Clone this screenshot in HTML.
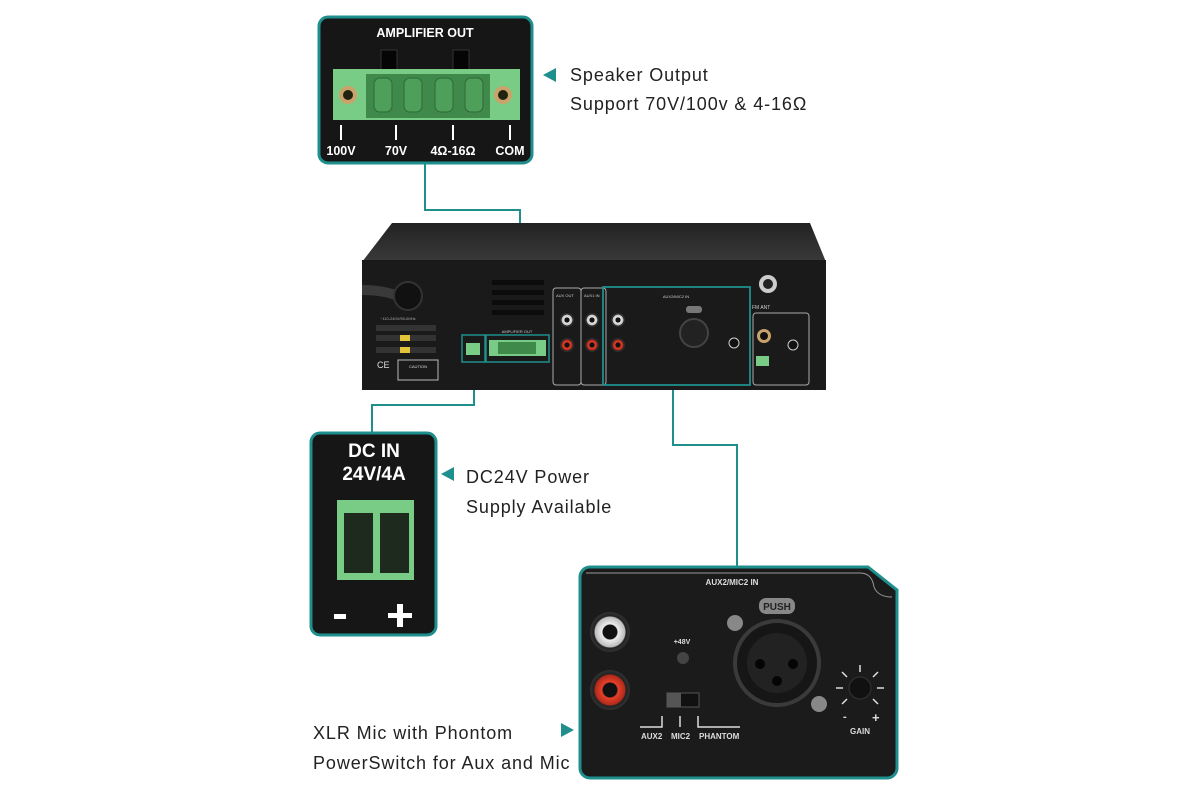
<!DOCTYPE html>
<html><head><meta charset="utf-8"><style>
html,body{margin:0;padding:0;background:#fff;}
svg{display:block;}
text{font-family:"Liberation Sans",sans-serif;}
.lbl{font-size:18px;letter-spacing:0.9px;fill:#222;}
</style></head><body>
<svg width="1200" height="800" viewBox="0 0 1200 800" xmlns="http://www.w3.org/2000/svg">
<rect width="1200" height="800" fill="#fff"/>
<defs>
<radialGradient id="rcaW"><stop offset="0.35" stop-color="#111"/><stop offset="0.4" stop-color="#eee"/><stop offset="0.75" stop-color="#bbb"/><stop offset="0.8" stop-color="#222"/><stop offset="1" stop-color="#333"/></radialGradient>
<radialGradient id="rcaR"><stop offset="0.35" stop-color="#111"/><stop offset="0.4" stop-color="#e8402a"/><stop offset="0.75" stop-color="#b02a1a"/><stop offset="0.8" stop-color="#222"/><stop offset="1" stop-color="#333"/></radialGradient>
<linearGradient id="topg" x1="0" y1="0" x2="0" y2="1"><stop offset="0" stop-color="#222"/><stop offset="1" stop-color="#3a3a3a"/></linearGradient>
</defs>

<g stroke="#1e8f8c" stroke-width="2" fill="none">
<polyline points="425,163 425,210 520,210 520,336"/>
<polyline points="474,362 474,405 372,405 372,433"/>
<polyline points="673,385 673,445 737,445 737,568"/>
</g>

<rect x="319" y="17" width="213" height="146" rx="9" fill="#161616" stroke="#1e8f8c" stroke-width="3"/>
<text x="425" y="37" fill="#fff" font-size="12.5" font-weight="bold" text-anchor="middle">AMPLIFIER  OUT</text>
<rect x="381" y="50" width="16" height="20" fill="#050505" stroke="#333"/>
<rect x="453" y="50" width="16" height="20" fill="#050505" stroke="#333"/>
<rect x="333" y="69" width="187" height="51" fill="#78cc86"/>
<rect x="366" y="74" width="124" height="44" fill="#3f8a4b"/>
<g fill="#4d9f59" stroke="#2f6a38">
<rect x="374" y="78" width="18" height="34" rx="6"/><rect x="404" y="78" width="18" height="34" rx="6"/><rect x="435" y="78" width="18" height="34" rx="6"/><rect x="465" y="78" width="18" height="34" rx="6"/>
</g>
<circle cx="348" cy="95" r="9" fill="#c9a36a"/><circle cx="348" cy="95" r="5" fill="#221"/>
<circle cx="503" cy="95" r="9" fill="#c9a36a"/><circle cx="503" cy="95" r="5" fill="#221"/>
<g stroke="#fff" stroke-width="2"><line x1="341" y1="125" x2="341" y2="140"/><line x1="396" y1="125" x2="396" y2="140"/><line x1="453" y1="125" x2="453" y2="140"/><line x1="510" y1="125" x2="510" y2="140"/></g>
<g fill="#fff" font-size="12.5" font-weight="bold" text-anchor="middle">
<text x="341" y="155">100V</text><text x="396" y="155">70V</text><text x="453" y="155">4Ω-16Ω</text><text x="510" y="155">COM</text></g>
<polygon points="543,75 556,68 556,82" fill="#1e8f8c"/>
<text x="570" y="81" class="lbl">Speaker Output</text>
<text x="570" y="110" class="lbl">Support 70V/100v &amp; 4-16Ω</text>

<polygon points="392,223 810,223 826,262 362,262" fill="url(#topg)"/>
<rect x="362" y="260" width="464" height="130" fill="#1a1a1a"/>
<path d="M362,290 q25,0 40,8" stroke="#3a3a3a" stroke-width="10" fill="none"/>
<circle cx="408" cy="296" r="14" fill="#111" stroke="#333" stroke-width="2"/>
<g fill="#0c0c0c"><rect x="492" y="280" width="52" height="5"/><rect x="492" y="290" width="52" height="5"/><rect x="492" y="300" width="52" height="5"/><rect x="492" y="310" width="52" height="5"/></g>
<text x="380" y="320" font-size="4" fill="#aaa">~110-240V/50-60Hz</text>
<g><rect x="376" y="325" width="60" height="6" fill="#333"/><rect x="376" y="335" width="60" height="6" fill="#333"/><rect x="400" y="335" width="10" height="6" fill="#e2c33a"/><rect x="376" y="347" width="60" height="6" fill="#333"/><rect x="400" y="347" width="10" height="6" fill="#e2c33a"/></g>
<text x="377" y="368" font-size="9" fill="#ddd">CE</text>
<rect x="398" y="360" width="40" height="20" fill="none" stroke="#bbb"/>
<text x="418" y="368" font-size="4" fill="#ddd" text-anchor="middle">CAUTION</text>
<rect x="462" y="335" width="23" height="27" fill="none" stroke="#1e8f8c" stroke-width="1.5"/>
<rect x="466" y="343" width="14" height="12" fill="#78cc86"/>
<rect x="486" y="335" width="63" height="27" fill="none" stroke="#1e8f8c" stroke-width="1.5"/>
<rect x="489" y="340" width="57" height="16" fill="#78cc86"/><rect x="498" y="342" width="38" height="12" fill="#3f8a4b"/>
<text x="517" y="333" font-size="4" fill="#ccc" text-anchor="middle">AMPLIFIER OUT</text>
<rect x="553" y="288" width="28" height="97" rx="3" fill="none" stroke="#aaa"/>
<rect x="581" y="288" width="25" height="97" rx="3" fill="none" stroke="#aaa"/>
<text x="556" y="297" font-size="4" fill="#ccc">AUX OUT</text><text x="584" y="297" font-size="4" fill="#ccc">AUX1 IN</text>
<circle cx="567" cy="320" r="7" fill="url(#rcaW)"/><circle cx="567" cy="345" r="7" fill="url(#rcaR)"/>
<circle cx="592" cy="320" r="7" fill="url(#rcaW)"/><circle cx="592" cy="345" r="7" fill="url(#rcaR)"/>
<circle cx="618" cy="320" r="7" fill="url(#rcaW)"/><circle cx="618" cy="345" r="7" fill="url(#rcaR)"/>
<rect x="603" y="287" width="147" height="98" fill="none" stroke="#1e8f8c" stroke-width="1.8"/>
<text x="676" y="298" font-size="4" fill="#ccc" text-anchor="middle">AUX2/MIC2 IN</text>
<circle cx="694" cy="333" r="14" fill="#222" stroke="#444" stroke-width="2"/>
<rect x="686" y="306" width="16" height="7" rx="3" fill="#777"/>
<circle cx="734" cy="343" r="5" fill="#111" stroke="#ccc"/>
<circle cx="768" cy="284" r="9" fill="#ccc"/><circle cx="768" cy="284" r="5" fill="#222"/>
<text x="752" y="309" font-size="5" fill="#ccc">FM ANT</text>
<rect x="753" y="313" width="56" height="72" rx="3" fill="none" stroke="#aaa"/>
<circle cx="764" cy="336" r="7" fill="#c9a36a"/><circle cx="764" cy="336" r="4" fill="#111"/>
<circle cx="793" cy="345" r="5" fill="#111" stroke="#ccc"/>
<rect x="756" y="356" width="13" height="10" fill="#78cc86"/>

<rect x="311" y="433" width="125" height="202" rx="9" fill="#161616" stroke="#1e8f8c" stroke-width="3"/>
<text x="374" y="457" fill="#fff" font-size="19" font-weight="bold" text-anchor="middle">DC  IN</text>
<text x="374" y="480" fill="#fff" font-size="19" font-weight="bold" text-anchor="middle">24V/4A</text>
<rect x="337" y="500" width="77" height="80" fill="#78cc86"/>
<rect x="344" y="513" width="29" height="60" fill="#1d2a1d"/><rect x="380" y="513" width="29" height="60" fill="#1d2a1d"/>
<rect x="334" y="614" width="12" height="5" fill="#fff"/>
<rect x="388" y="613" width="24" height="5" fill="#fff"/><rect x="397" y="604" width="6" height="23" fill="#fff"/>
<polygon points="441,474 454,467 454,481" fill="#1e8f8c"/>
<text x="466" y="483" class="lbl">DC24V Power</text>
<text x="466" y="513" class="lbl">Supply Available</text>

<path d="M590,567 H868 L897,590 V768 a10,10 0 0 1 -10,10 H590 a10,10 0 0 1 -10,-10 V577 a10,10 0 0 1 10,-10 Z" fill="#1b1b1b" stroke="#1e8f8c" stroke-width="3"/>
<path d="M586,573 H860 q12,0 14,14 q4,10 18,10" fill="none" stroke="#999" stroke-width="1"/>
<text x="732" y="585" font-size="8" font-weight="bold" fill="#ddd" text-anchor="middle">AUX2/MIC2  IN</text>
<circle cx="610" cy="632" r="20" fill="url(#rcaW)"/>
<circle cx="610" cy="690" r="20" fill="url(#rcaR)"/>
<text x="682" y="644" font-size="7" font-weight="bold" fill="#ddd" text-anchor="middle">+48V</text>
<circle cx="683" cy="658" r="6" fill="#444"/>
<rect x="667" y="693" width="32" height="14" fill="#111" stroke="#555"/><rect x="667" y="693" width="14" height="14" fill="#555"/>
<g stroke="#ddd" stroke-width="1.5" fill="none"><polyline points="640,727 662,727 662,716"/><line x1="680" y1="716" x2="680" y2="727"/><polyline points="698,716 698,727 740,727"/></g>
<g font-size="8" font-weight="bold" fill="#ddd"><text x="641" y="739">AUX2</text><text x="671" y="739">MIC2</text><text x="699" y="739">PHANTOM</text></g>
<rect x="759" y="598" width="36" height="16" rx="7" fill="#888"/>
<text x="777" y="610" font-size="10" font-weight="bold" fill="#222" text-anchor="middle">PUSH</text>
<circle cx="777" cy="663" r="42" fill="#161616" stroke="#3a3a3a" stroke-width="4"/>
<circle cx="777" cy="663" r="30" fill="#222"/>
<circle cx="760" cy="664" r="5" fill="#050505"/><circle cx="793" cy="664" r="5" fill="#050505"/><circle cx="777" cy="681" r="5" fill="#050505"/>
<circle cx="735" cy="623" r="8" fill="#888"/><circle cx="819" cy="704" r="8" fill="#888"/>
<circle cx="860" cy="688" r="11" fill="#111" stroke="#333"/>
<g stroke="#ddd" stroke-width="1.5"><line x1="860" y1="665" x2="860" y2="672"/><line x1="842" y1="672" x2="847" y2="677"/><line x1="878" y1="672" x2="873" y2="677"/><line x1="836" y1="688" x2="843" y2="688"/><line x1="877" y1="688" x2="884" y2="688"/><line x1="842" y1="704" x2="847" y2="699"/><line x1="878" y1="704" x2="873" y2="699"/></g>
<text x="843" y="720" font-size="11" font-weight="bold" fill="#ddd">-</text><text x="872" y="722" font-size="13" font-weight="bold" fill="#ddd">+</text>
<text x="860" y="734" font-size="8" font-weight="bold" fill="#ddd" text-anchor="middle">GAIN</text>
<polygon points="574,730 561,723 561,737" fill="#1e8f8c"/>
<text x="313" y="739" class="lbl">XLR Mic with Phontom</text>
<text x="313" y="769" class="lbl">PowerSwitch for Aux and Mic</text>
</svg>
</body></html>
